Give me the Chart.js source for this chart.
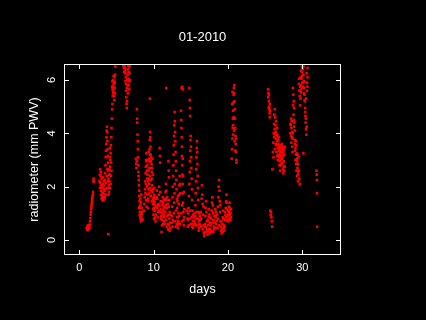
<!DOCTYPE html>
<html>
<head>
<meta charset="utf-8">
<script src="https://cdn.jsdelivr.net/npm/chart.js@4.4.0/dist/chart.umd.min.js"></script>
<style>
  html, body { margin: 0; padding: 0; background: #000; }
  canvas { display: block; }
</style>
</head>
<body>
<canvas id="pwv-chart" width="426" height="320"></canvas>
<script>
const chartTitle = '01-2010';
const xLabel = 'days';
const yLabel = 'radiometer (mm PWV)';
const xTicks = [0, 10, 20, 30];
const yTicks = [0, 2, 4, 6];

// [day, mm PWV]
const week1 = [
  [1.00,0.45],[1.03,0.40],[1.06,0.50],[1.09,0.42],[1.12,0.38],[1.15,0.47],[1.18,0.55],[1.21,0.44],
  [1.25,0.40],[1.28,0.48],[1.32,0.52],[1.36,0.45],[1.40,0.58],[1.44,0.70],[1.48,0.82],[1.52,0.95],
  [1.55,1.05],[1.58,1.15],[1.62,1.22],[1.65,1.30],[1.68,1.38],[1.72,1.45],[1.75,1.55],[1.78,1.62],
  [1.82,1.70],[1.86,1.80],[1.90,2.22],[1.93,2.30],[1.96,2.18],
  [2.70,2.20],[2.75,2.45],[2.80,2.65],[2.85,2.40],[2.88,2.05],[2.92,1.85],[2.95,1.70],[3.00,1.55],
  [3.05,1.62],[3.08,1.80],[3.12,1.95],[3.15,2.10],[3.18,1.75],[3.22,1.60],[3.25,1.48],[3.30,1.72],
  [3.33,1.90],[3.36,2.05],[3.40,1.85],[3.44,2.25],[3.48,2.50],[3.52,2.80],[3.55,3.10],[3.58,3.35],
  [3.62,3.60],[3.65,3.85],[3.68,4.10],[3.72,4.25],[3.75,4.05],[3.78,3.70],[3.80,3.40],[3.84,3.15],
  [3.88,2.90],[3.90,2.60],[3.93,2.30],[3.96,2.05],[4.00,1.80],[4.03,1.95],[4.06,2.20],[4.10,2.45],
  [4.14,2.75],[4.18,3.00],[4.22,3.25],[4.26,3.55],[4.30,3.85],[4.34,4.20],[4.38,4.55],[4.42,4.90],
  [4.46,5.10],[4.50,5.40],[4.53,5.60],[4.56,5.75],[4.60,5.85],[4.63,5.55],[4.66,5.70],[4.70,5.95],
  [4.74,6.10],[4.78,5.90],[4.82,6.20],[3.90,0.22],[4.85,6.50],
  [2.78,1.95],[2.83,2.15],[2.90,2.55],[2.98,2.30],[3.02,2.00],[3.10,1.50],[3.20,2.35],[3.28,2.20],
  [3.35,1.55],[3.42,1.60],[3.50,1.90],[3.56,2.15],[3.60,1.70],[3.66,1.95],[3.70,2.40],[3.76,2.65],
  [3.82,2.20],[3.86,1.95],[3.92,1.70],[3.98,2.45],[4.04,2.65],[4.08,3.10],[4.12,3.45],[4.16,1.95],
  [4.20,2.10],[4.25,2.40],[4.28,2.90],[4.32,2.60],
  [4.40,5.75],[4.45,5.95],[4.48,5.65],[4.52,6.00],[4.58,5.50],[4.62,6.15],[4.68,5.40],[4.72,5.25],
  [4.76,5.70],[4.80,5.50],
  [5.90,6.55],[5.95,6.60],[6.00,6.45],[6.05,6.58],[6.10,6.50],[6.15,6.35],[6.20,6.25],[6.25,6.10],
  [6.28,5.85],[6.30,5.60],[6.33,5.35],[6.36,5.10],[6.38,4.95],[6.42,5.20],[6.45,6.00],[6.50,6.20],
  [6.55,6.40],[6.60,6.05],[6.65,5.80],[6.70,5.95],[6.75,6.25],[6.80,6.55],
  [6.02,6.30],[6.12,6.60],[6.18,6.45],[6.22,5.95],[6.40,5.70],[6.48,5.80],[6.52,5.50],[6.58,6.55],
  [6.62,6.30],[6.68,6.50],[6.72,5.65],[6.78,6.00]
];

const week2 = [
  [7.62,3.05],[7.65,2.85],[7.68,2.70],[7.72,2.95],[7.75,4.90],[7.78,4.55],[7.80,4.40],[7.83,3.95],
  [7.86,3.70],[7.88,3.40],[7.90,3.10],[7.93,2.80],[7.95,2.55],[7.98,2.40],[8.00,2.25],[8.03,2.05],
  [8.06,1.85],[8.08,1.65],[8.10,1.45],[8.13,1.25],[8.16,1.05],[8.20,0.90],[8.24,0.80],[8.28,0.70],
  [8.32,0.85],[8.36,1.00],[8.40,1.20],
  [8.05,1.20],[8.12,0.95],[8.18,1.55],[8.22,1.30],[8.26,1.05],[8.30,1.40],[8.34,1.70],[8.38,0.95],
  [8.44,0.80],[8.48,1.05],[8.52,0.75],
  [8.70,1.10],[8.75,1.35],[8.80,1.60],[8.85,1.90],[8.88,2.20],[8.92,2.50],[8.95,2.75],[8.98,3.00],
  [9.02,3.25],[9.05,2.95],[9.08,2.60],[9.10,2.30],[9.13,2.00],[9.16,1.70],[9.20,1.45],[9.24,1.20],
  [9.28,1.55],[9.32,1.90],[9.35,2.30],[9.38,2.70],[9.42,3.05],[9.45,3.40],[9.48,3.75],[9.52,4.05],
  [9.55,3.85],[9.58,3.50],[9.60,3.20],[9.63,2.95],[9.66,2.70],[9.68,3.10],[9.72,2.85],[9.75,2.55],
  [9.78,2.30],[9.82,2.05],[9.85,1.80],[9.88,1.55],[9.92,1.35],[9.95,1.15],[9.98,0.95],[10.02,1.20],
  [10.05,1.45],[10.08,1.70],[10.12,1.40],[10.15,1.10],[10.20,0.85],[10.25,0.70],[10.30,0.95],
  [10.35,1.25],[9.50,5.30],
  [8.90,1.75],[8.96,2.10],[9.00,1.50],[9.06,1.25],[9.12,2.80],[9.18,2.45],[9.22,3.00],[9.26,2.20],
  [9.30,2.60],[9.34,3.30],[9.40,2.10],[9.44,1.75],[9.46,2.95],[9.50,3.20],[9.54,2.40],[9.56,1.95],
  [9.62,1.65],[9.64,2.25],[9.70,1.85],[9.74,1.45],[9.80,2.70],[9.84,3.05],[9.90,2.45],[9.94,1.90],
  [10.00,1.60],[10.04,0.80],[10.10,1.95],[10.18,1.30],[10.22,1.55],
  [10.40,1.60],[10.45,1.85],[10.50,1.55],[10.55,1.30],[10.60,1.05],[10.65,1.35],[10.70,1.70],
  [10.75,2.00],[10.80,3.45],[10.85,3.15],[10.88,2.90],[10.92,1.80],[10.95,1.45],[11.00,1.15],
  [11.03,0.90],[11.06,0.30],[11.10,0.75],[11.14,1.00],[11.18,1.30],[11.22,1.60],[11.26,1.40],
  [11.30,1.10],[11.35,0.85],[11.40,0.70],[11.45,0.95],[11.50,1.25],[11.55,1.55],[11.60,1.80],
  [11.65,2.10],[11.70,1.85],[11.75,1.50],[11.80,1.20],[11.85,0.90],[11.90,0.60],[11.95,0.40],
  [12.00,2.95],[12.02,2.60],[12.05,2.35],[12.08,0.55],[12.12,0.80],[12.16,1.05],[12.20,0.65],
  [12.25,0.45],[11.70,5.70],
  [10.48,1.20],[10.58,0.85],[10.68,1.10],[10.78,1.30],[10.90,1.05],[10.98,0.80],[11.08,1.45],
  [11.12,0.55],[11.20,0.90],[11.28,0.60],[11.38,1.20],[11.42,1.50],[11.52,0.60],[11.58,1.05],
  [11.62,1.30],[11.68,0.75],[11.78,0.50],[11.82,1.60],[11.88,1.35],[11.98,0.95],[12.04,1.25],
  [12.10,1.50],[12.14,0.35],[12.22,0.95],
  [12.45,0.90],[12.50,1.25],[12.55,1.60],[12.58,2.00],[12.62,2.40],[12.65,2.80],[12.68,3.20],
  [12.72,3.55],[12.75,3.90],[12.78,4.30],[12.82,4.80],[12.85,4.45],[12.88,4.05],[12.92,3.70],
  [12.95,3.30],[12.98,2.95],[13.02,2.60],[13.05,2.25],[13.08,1.90],[13.12,1.55],[13.15,1.20],
  [13.18,0.85],[13.22,0.55],[13.26,0.45],[13.30,0.70],[13.34,1.00],[13.38,1.35],[13.42,1.70],
  [13.46,2.05],[13.50,2.40],[13.54,2.10],[13.58,1.75],
  [12.48,0.65],[12.52,0.50],[12.60,0.75],[12.70,1.00],[12.76,1.40],[12.80,1.75],[12.84,2.10],
  [12.90,0.70],[12.96,0.50],[13.00,1.10],[13.10,0.60],[13.20,1.45],[13.28,1.65],[13.36,0.65],
  [13.44,0.90],[13.52,0.60],
  [13.75,5.70],[13.85,5.75],[13.95,5.65],[13.70,4.85],[13.72,4.50],[13.75,4.20],[13.78,3.85],
  [13.80,3.50],[13.82,3.15],[13.85,2.80],[13.88,2.45],[13.90,2.10],[13.93,1.75],[13.96,1.40],
  [14.00,1.05],[14.03,0.75],[14.06,0.55],[14.10,0.85],[14.14,1.15],
  [13.74,1.00],[13.80,0.70],[13.84,1.30],[13.92,3.05],[13.98,2.40],[14.05,1.80]
];

const week3 = [
  [14.80,5.70],[14.85,5.25],[14.88,4.95],[14.92,4.65],[14.50,1.10],[14.55,0.80],[14.60,0.50],
  [14.65,0.75],[14.70,1.20],[14.75,1.65],[14.80,2.10],[14.85,2.55],[14.88,2.95],[14.92,3.35],
  [14.95,3.75],[14.98,3.90],[15.02,3.50],[15.05,3.10],[15.08,2.70],[15.12,2.30],[15.15,1.90],
  [15.18,1.50],[15.22,1.10],[15.26,0.70],[15.30,0.45],[15.35,0.60],[15.40,0.85],
  [15.55,0.55],[15.60,0.90],[15.63,1.30],[15.66,1.75],[15.70,2.20],[15.73,2.65],[15.76,3.10],
  [15.80,3.45],[15.83,3.70],[15.86,3.30],[15.90,2.85],[15.93,2.40],[15.96,1.95],[16.00,1.50],
  [16.04,1.05],[16.08,0.70],[16.12,0.45],[16.16,0.60],[16.20,0.90],
  [14.62,1.00],[14.72,0.55],[14.82,0.80],[14.90,1.10],[15.00,0.60],[15.10,0.85],[15.20,0.50],
  [15.28,0.95],[15.45,0.70],[15.50,1.00],[15.58,0.65],[15.68,0.80],[15.78,1.05],[15.88,0.55],
  [15.98,0.80],[16.06,0.35],[16.14,1.00],[16.22,0.55],
  [16.30,0.75],[16.35,1.05],[16.40,0.80],[16.45,1.55],[16.50,2.05],[16.55,1.70],[16.60,1.35],
  [16.65,0.95],[16.70,0.55],[16.75,0.25],[16.80,0.15],[16.85,0.30],[16.90,0.60],[16.95,0.90],
  [17.00,1.20],[17.05,1.45],[17.10,1.05],[17.15,0.70],[17.20,0.40],[17.25,0.20],[17.30,0.35],
  [17.35,0.55],[17.40,0.85],[17.45,1.15],[17.50,0.95],[17.55,0.65],[17.60,0.40],[17.65,0.30],
  [17.70,0.55],[17.75,0.80],[17.80,1.10],[17.85,1.40],[17.90,1.60],[17.95,1.30],[18.00,1.00],
  [18.05,0.75],[18.10,0.50],[18.15,0.40],[18.20,0.65],[18.25,0.90],[18.30,1.15],[18.35,0.85],
  [18.40,0.60],[18.45,0.45],[18.50,0.70],[18.55,0.95],[18.65,1.25],[18.70,1.60],[18.75,2.00],
  [18.80,2.25],[18.85,1.85],[18.90,1.45],[18.95,1.05],[19.00,0.70],[19.05,0.50],[19.10,0.35],
  [19.15,0.25],[19.20,0.40],[19.25,0.60],[19.30,0.85],[19.35,1.10],[19.40,0.80],[19.45,0.55],
  [19.50,0.35],[19.55,0.50],[19.60,0.75],[19.65,0.95],[19.70,1.20],[19.75,1.45],[19.80,1.70],
  [19.85,1.40],[19.90,1.15],[19.95,0.90],[20.00,0.70],[20.05,0.95],[20.10,1.25],[20.15,1.05],
  [20.20,0.80],[20.25,0.95],[20.30,1.20],[20.35,1.00],[20.40,0.85],
  [16.42,0.50],[16.58,0.40],[16.72,1.25],[16.88,0.50],[17.02,0.50],[17.12,0.30],[17.28,0.75],
  [17.42,0.40],[17.52,0.25],[17.62,0.85],[17.78,0.35],[17.88,0.65],[18.02,0.30],[18.18,0.90],
  [18.28,0.45],[18.42,1.05],[18.58,0.45],[18.68,0.80],[18.82,0.55],[18.98,1.30],[19.12,0.70],
  [19.28,0.30],[19.42,0.45],[19.58,1.05],[19.72,0.85],[19.88,0.75],[20.02,1.10],[20.12,0.80],
  [20.22,1.40],[20.32,0.75],[20.42,1.15],
  [20.50,3.05],[20.55,3.40],[20.60,3.80],[20.63,4.20],[20.66,4.55],[20.70,4.85],[20.73,5.15],
  [20.76,5.45],[20.80,5.70],[20.84,5.50],[20.88,5.20],[20.92,4.90],[20.95,4.55],[20.98,4.20],
  [21.02,3.90],[21.05,3.60],[21.08,3.30],[21.12,3.00],[21.15,2.90],
  [20.58,5.10],[20.62,5.55],[20.68,4.30],[20.72,3.95],[20.78,4.60],[20.82,4.10],[20.90,3.70],
  [21.00,3.35],[21.10,3.80],[20.86,5.80]
];

const week4 = [
  [25.40,5.65],[25.45,5.50],[25.50,5.20],[25.55,5.00],[25.60,4.75],[25.63,4.60],[25.68,4.85],
  [25.42,5.35],[25.48,4.95],[25.52,5.45],[25.58,4.90],[25.65,5.10],
  [25.70,1.10],[25.75,0.95],[25.80,1.05],[25.85,0.85],[25.90,0.70],[25.95,0.50],
  [25.98,2.65],[26.05,3.30],[26.10,3.65],[26.15,4.00],[26.20,4.35],[26.25,4.70],[26.30,4.90],
  [26.35,4.60],[26.40,4.30],[26.45,4.05],[26.50,3.80],[26.55,3.55],[26.60,3.95],[26.65,3.70],
  [26.70,3.45],[26.75,3.20],[26.80,3.60],[26.85,3.85],[26.90,3.50],[26.95,3.20],[27.00,2.95],
  [27.05,3.30],[27.10,3.05],[27.15,2.80],[27.20,3.35],[27.25,3.60],[27.30,3.25],[27.35,2.90],
  [27.40,2.65],[27.45,2.50],[27.50,2.95],[27.55,3.40],[27.60,3.20],[27.65,2.75],
  [26.12,3.10],[26.22,3.85],[26.28,4.15],[26.32,3.40],[26.38,3.95],[26.42,3.60],[26.48,4.45],
  [26.52,3.30],[26.58,3.15],[26.62,4.20],[26.68,3.90],[26.72,3.00],[26.78,3.75],[26.82,3.35],
  [26.88,3.10],[26.92,2.80],[26.98,3.45],[27.02,2.60],[27.08,3.55],[27.12,3.30],[27.18,3.15],
  [27.22,2.85],[27.28,3.50],[27.32,3.05],[27.38,3.40],[27.42,3.15],[27.48,3.30],[27.52,2.75],
  [27.58,2.60],[27.62,3.50],
  [28.40,4.00],[28.45,4.30],[28.50,4.55],[28.55,4.20],[28.60,3.85],[28.65,3.50],[28.70,3.80],
  [28.75,5.70],[28.80,5.45],[28.85,5.20],[28.90,4.95],[28.95,4.40],[29.00,4.10],[29.05,3.75],
  [29.10,3.45],[29.15,3.20],[29.20,3.55],[29.25,3.25],[29.30,2.95],[29.35,2.70],[29.40,2.45],
  [29.45,2.85],[29.50,3.10],[29.55,2.60],[29.60,2.30],[29.65,2.10],
  [28.42,4.35],[28.48,3.90],[28.52,3.65],[28.58,4.45],[28.62,4.05],[28.68,3.30],[28.72,4.00],
  [28.78,5.05],[28.82,4.70],[28.88,4.50],[28.92,4.25],[28.98,3.60],[29.02,3.35],[29.08,3.00],
  [29.12,3.70],[29.18,2.85],[29.22,2.60],[29.28,3.05],[29.32,2.40],[29.38,3.20],[29.42,2.20],
  [29.48,2.55],
  [29.70,5.05],[29.75,5.30],[29.80,5.55],[29.85,5.80],[29.90,6.05],[29.95,6.30],[30.00,6.45],
  [30.05,6.55],[30.10,6.40],[30.15,6.20],[30.20,5.95],[30.25,5.70],[30.30,5.45],[30.35,5.20],
  [30.38,4.95],[30.42,4.65],[30.45,4.40],[30.50,4.15],[30.55,3.95],[30.60,4.25],[30.65,5.90],
  [30.70,6.10],[29.60,5.60],[29.55,5.85],[30.15,3.25],
  [29.58,6.05],[29.65,5.40],[29.72,5.75],[29.78,6.10],[29.82,6.35],[29.88,5.65],[29.92,6.55],
  [29.98,6.15],[30.02,5.90],[30.08,6.60],[30.12,5.75],[30.18,6.50],[30.22,5.50],[30.28,5.95],
  [30.32,5.25],[30.40,4.80],[30.48,4.55],[30.52,5.30],[30.58,6.25],[30.62,5.60],[30.68,5.75],
  [30.72,6.45],
  [31.92,2.60],[31.95,2.45],[31.97,2.25],[31.98,1.75],[32.00,0.50]
];

document.addEventListener('DOMContentLoaded', function() {
  const ctx = document.getElementById('pwv-chart').getContext('2d');
  const points = week1.concat(week2, week3, week4).map(p => ({ x: p[0], y: p[1] }));
  const font = 'Liberation Sans, Arial, sans-serif';

  // box, inward ticks and the text PGPLOT-style
  const framePlugin = {
    id: 'frame',
    beforeDraw(chart) {
      const c = chart.ctx;
      c.save();
      c.fillStyle = '#000';
      c.fillRect(0, 0, chart.width, chart.height);
      c.restore();
    },
    afterDraw(chart) {
      const c = chart.ctx;
      const a = chart.chartArea;
      const xs = chart.scales.x;
      const ys = chart.scales.y;
      c.save();
      c.strokeStyle = '#fff';
      c.lineWidth = 1;
      c.strokeRect(a.left + 0.5, a.top + 0.5, a.right - a.left - 1, a.bottom - a.top - 1);
      c.beginPath();
      xs.ticks.forEach(t => {
        const px = Math.round(xs.getPixelForValue(t.value)) + 0.5;
        c.moveTo(px, a.bottom); c.lineTo(px, a.bottom - 5);
        c.moveTo(px, a.top); c.lineTo(px, a.top + 5);
      });
      ys.ticks.forEach(t => {
        const py = Math.round(ys.getPixelForValue(t.value)) + 0.5;
        c.moveTo(a.left, py); c.lineTo(a.left + 5, py);
        c.moveTo(a.right, py); c.lineTo(a.right - 5, py);
      });
      c.stroke();

      c.fillStyle = '#fff';
      c.textAlign = 'center';
      c.textBaseline = 'middle';
      c.font = '11px ' + font;
      ys.ticks.forEach(t => {
        const py = ys.getPixelForValue(t.value);
        c.save();
        c.translate(52, py);
        c.rotate(-Math.PI / 2);
        c.fillText(String(t.value), 0, 0);
        c.restore();
      });
      c.font = '12.5px ' + font;
      c.save();
      c.translate(35, (a.top + a.bottom) / 2);
      c.rotate(-Math.PI / 2);
      c.fillText(yLabel, 0, 0);
      c.restore();
      c.fillText(xLabel, (a.left + a.right) / 2, 290);
      c.font = '13px ' + font;
      c.fillText(chartTitle, (a.left + a.right) / 2, 37);
      c.restore();
    }
  };

  new Chart(ctx, {
    type: 'scatter',
    data: {
      datasets: [{
        data: points,
        pointStyle: 'rect',
        pointRadius: 1.8,
        pointBorderWidth: 0,
        pointBackgroundColor: '#ff0000',
        pointHoverRadius: 1.8
      }]
    },
    options: {
      responsive: false,
      animation: false,
      devicePixelRatio: 1,
      layout: { padding: { top: 64, right: 85, left: 0, bottom: 0 } },
      plugins: {
        legend: { display: false },
        tooltip: { enabled: false },
        title: { display: false }
      },
      scales: {
        x: {
          type: 'linear',
          min: -2.06,
          max: 35.21,
          afterBuildTicks: s => { s.ticks = xTicks.map(v => ({ value: v })); },
          afterFit: s => { s.height = 65; },
          ticks: {
            color: '#fff',
            padding: 6,
            includeBounds: false,
            font: { family: font, size: 11 }
          },
          grid: { display: false, drawTicks: false },
          border: { display: false }
        },
        y: {
          type: 'linear',
          min: -0.5625,
          max: 6.6,
          afterBuildTicks: s => { s.ticks = yTicks.map(v => ({ value: v })); },
          afterFit: s => { s.width = 64; },
          ticks: { display: false },
          grid: { display: false, drawTicks: false },
          border: { display: false }
        }
      }
    },
    plugins: [framePlugin]
  });
});
</script>
</body>
</html>
